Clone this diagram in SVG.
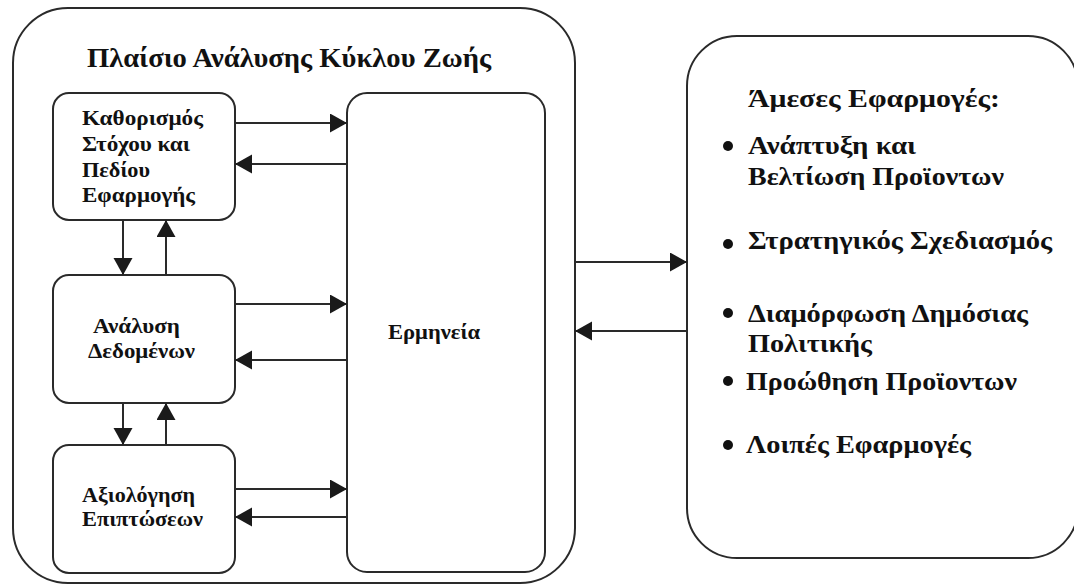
<svg xmlns="http://www.w3.org/2000/svg" width="1074" height="586" viewBox="0 0 1074 586">
  <defs>
    <marker id="arrow" markerUnits="userSpaceOnUse" markerWidth="18" markerHeight="20" refX="17" refY="9.5" orient="auto">
      <path d="M0,0 L17,9.5 L0,19 Z" fill="#1a1a1a"/>
    </marker>
  </defs>
  <style>
    .frame { fill: #fff; stroke: #2a2a2a; stroke-width: 2; }
    .box { fill: #fff; stroke: #2a2a2a; stroke-width: 2; }
    .link { stroke: #2a2a2a; stroke-width: 2; fill: none; marker-end: url(#arrow); }
    text { font-family: "Liberation Serif", "Times New Roman", serif; font-weight: bold; fill: #111; }
    .title { font-size: 27px; }
    .node { font-size: 20px; }
    .app { font-size: 26px; }
    .dot { fill: #111; }
  </style>

  <rect width="1074" height="586" fill="#fff"/>

  <!-- Life cycle analysis framework -->
  <g id="framework">
    <rect class="frame" x="13" y="8" width="562" height="575" rx="55" ry="55"/>
    <text class="title" x="87" y="67" textLength="404" lengthAdjust="spacingAndGlyphs">Πλαίσιο Ανάλυσης Κύκλου Ζωής</text>
  </g>

  <g id="goal-scope">
    <rect class="box" x="53" y="93" width="182" height="127" rx="16" ry="16"/>
    <text class="node" x="82" y="125" textLength="121" lengthAdjust="spacingAndGlyphs">Καθορισμός</text>
    <text class="node" x="82" y="151" textLength="108" lengthAdjust="spacingAndGlyphs">Στόχου και</text>
    <text class="node" x="82" y="177" textLength="68" lengthAdjust="spacingAndGlyphs">Πεδίου</text>
    <text class="node" x="82" y="202" textLength="113" lengthAdjust="spacingAndGlyphs">Εφαρμογής</text>
  </g>

  <g id="data-analysis">
    <rect class="box" x="53" y="275" width="182" height="128" rx="16" ry="16"/>
    <text class="node" x="93" y="333" textLength="87" lengthAdjust="spacingAndGlyphs">Ανάλυση</text>
    <text class="node" x="88" y="358" textLength="107" lengthAdjust="spacingAndGlyphs">Δεδομένων</text>
  </g>

  <g id="impact-assessment">
    <rect class="box" x="53" y="445" width="182" height="128" rx="16" ry="16"/>
    <text class="node" x="82" y="502" textLength="113" lengthAdjust="spacingAndGlyphs">Αξιολόγηση</text>
    <text class="node" x="82" y="526" textLength="121" lengthAdjust="spacingAndGlyphs">Επιπτώσεων</text>
  </g>

  <g id="interpretation">
    <rect class="box" x="347" y="93" width="198" height="479" rx="20" ry="20"/>
    <text class="node" x="388" y="339" textLength="92" lengthAdjust="spacingAndGlyphs">Ερμηνεία</text>
  </g>

  <!-- Direct applications -->
  <g id="applications">
    <rect class="frame" x="687" y="36" width="391" height="522" rx="50" ry="50"/>
    <text class="app" x="748" y="107" textLength="252" lengthAdjust="spacingAndGlyphs">Άμεσες Εφαρμογές:</text>
    <circle class="dot" cx="728" cy="146" r="5"/>
    <text class="app" x="748" y="154" textLength="168" lengthAdjust="spacingAndGlyphs">Ανάπτυξη και</text>
    <text class="app" x="748" y="185" textLength="256" lengthAdjust="spacingAndGlyphs">Βελτίωση Προϊοντων</text>
    <circle class="dot" cx="728" cy="244" r="5"/>
    <text class="app" x="748" y="249" textLength="304" lengthAdjust="spacingAndGlyphs">Στρατηγικός Σχεδιασμός</text>
    <circle class="dot" cx="728" cy="313" r="5"/>
    <text class="app" x="748" y="322" textLength="280" lengthAdjust="spacingAndGlyphs">Διαμόρφωση Δημόσιας</text>
    <text class="app" x="748" y="352" textLength="124" lengthAdjust="spacingAndGlyphs">Πολιτικής</text>
    <circle class="dot" cx="728" cy="381" r="5"/>
    <text class="app" x="746" y="390" textLength="271" lengthAdjust="spacingAndGlyphs">Προώθηση Προϊοντων</text>
    <circle class="dot" cx="728" cy="445" r="5"/>
    <text class="app" x="746" y="453" textLength="225" lengthAdjust="spacingAndGlyphs">Λοιπές Εφαρμογές</text>
  </g>

  <g id="connectors">
    <!-- goal & scope <-> interpretation -->
    <line class="link" x1="235" y1="123" x2="347" y2="123"/>
    <line class="link" x1="347" y1="164" x2="235" y2="164"/>
    <!-- data analysis <-> interpretation -->
    <line class="link" x1="235" y1="304" x2="347" y2="304"/>
    <line class="link" x1="347" y1="360" x2="235" y2="360"/>
    <!-- impact assessment <-> interpretation -->
    <line class="link" x1="235" y1="489" x2="347" y2="489"/>
    <line class="link" x1="347" y1="517" x2="235" y2="517"/>
    <!-- vertical flow between phases -->
    <line class="link" x1="123" y1="220" x2="123" y2="275"/>
    <line class="link" x1="166" y1="275" x2="166" y2="220"/>
    <line class="link" x1="123" y1="403" x2="123" y2="445"/>
    <line class="link" x1="166" y1="445" x2="166" y2="403"/>
    <!-- framework <-> applications -->
    <line class="link" x1="575" y1="262" x2="687" y2="262"/>
    <line class="link" x1="687" y1="331" x2="575" y2="331"/>
  </g>
</svg>
